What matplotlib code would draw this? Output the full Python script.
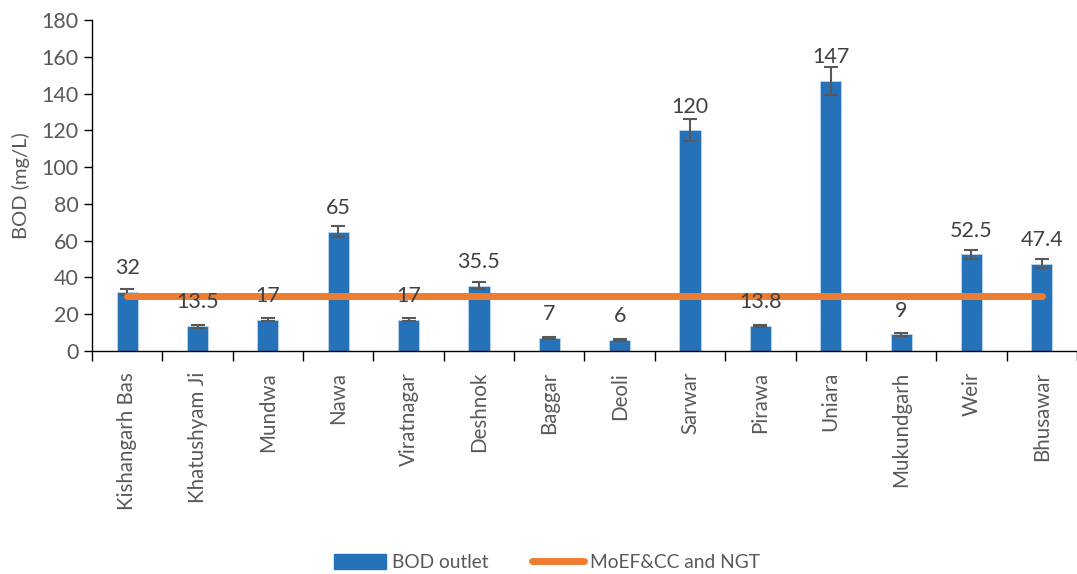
import matplotlib
matplotlib.use("Agg")
import matplotlib.pyplot as plt
from matplotlib.lines import Line2D
from matplotlib.patches import Patch
import numpy as np

plt.rcParams['font.family'] = ['Lato', 'DejaVu Sans']

categories = ["Kishangarh Bas", "Khatushyam Ji", "Mundwa", "Nawa", "Viratnagar",
              "Deshnok", "Baggar", "Deoli", "Sarwar", "Pirawa", "Uniara",
              "Mukundgarh", "Weir", "Bhusawar"]
bod_outlet = [32, 13.5, 17, 65, 17, 35.5, 7, 6, 120, 13.8, 147, 9, 52.5, 47.4]
bod_error = [1.7, 0.8, 0.8, 3, 0.8, 2, 0.6, 0.6, 6, 0.6, 7.5, 0.8, 2.5, 2.5]
labels = ["32", "13.5", "17", "65", "17", "35.5", "7", "6", "120", "13.8", "147", "9", "52.5", "47.4"]
standard = [30] * len(categories)
yticks = [0, 20, 40, 60, 80, 100, 120, 140, 160, 180]

blue = "#2672B8"
orange = "#ED7D31"
gray = "#595959"

fig = plt.figure(figsize=(10.77, 5.74), dpi=100)
ax = fig.add_axes([0.0854, 0.3885, 0.9146, 0.5765])

x = np.arange(len(categories))
ax.bar(x, bod_outlet, width=0.3, color=blue, edgecolor="#BDD7EE", linewidth=0.6, zorder=2)
ax.errorbar(x, bod_outlet, yerr=bod_error, fmt="none", ecolor=gray, elinewidth=1.5,
            capsize=5, capthick=1.5, zorder=3)
ax.plot(x, standard, color=orange, linewidth=5, solid_capstyle="round", zorder=4)

for xi, v, t in zip(x, bod_outlet, labels):
    ax.annotate(t, (xi, v), xytext=(0, 10), textcoords="offset points",
                ha="center", va="bottom", fontsize=15.5, color="#404040", zorder=5)

ax.set_xlim(-0.5, len(categories) - 0.5)
ax.set_ylim(0, 180)
ax.set_yticks(yticks)
ax.tick_params(axis="y", labelsize=15.5, labelcolor=gray, length=6, width=1, color="#000000")
ax.set_ylabel("BOD (mg/L)", fontsize=14.5, color=gray)
ax.yaxis.set_label_coords(-0.063, 0.5)

ax.set_xticks(x)
ax.set_xticklabels(categories, rotation=90, fontsize=14.8, color=gray)
ax.tick_params(axis="x", which="major", length=0, pad=15)
ax.set_xticks(np.arange(-0.5, len(categories), 1), minor=True)
ax.tick_params(axis="x", which="minor", length=7, width=1, color="#000000")

for s in ["top", "right"]:
    ax.spines[s].set_visible(False)
for s in ["left", "bottom"]:
    ax.spines[s].set_color("#000000")
    ax.spines[s].set_linewidth(1)

handles = [Patch(facecolor=blue, edgecolor=blue, label="BOD outlet"),
           Line2D([0], [0], color=orange, linewidth=5, solid_capstyle="round", label="MoEF&CC and NGT")]
fig.legend(handles=handles, loc="lower center", bbox_to_anchor=(0.508, -0.025), ncol=2,
           frameon=False, fontsize=13.8, labelcolor=gray, handlelength=2.7,
           handleheight=0.8, columnspacing=2.3, handletextpad=0.3)

fig.savefig("out.png", dpi=100)
